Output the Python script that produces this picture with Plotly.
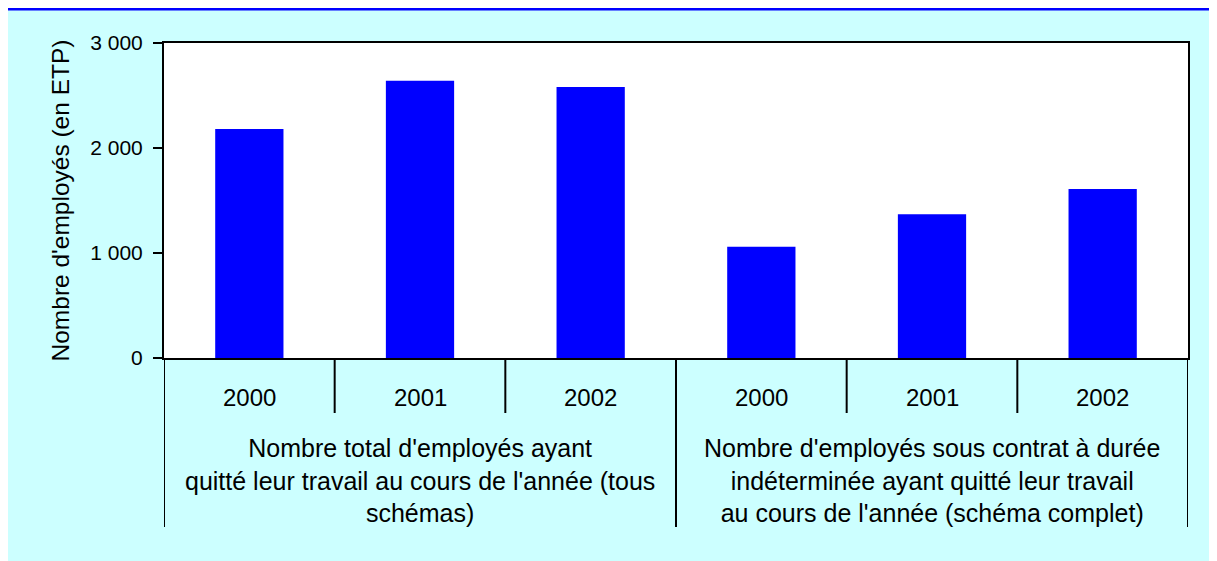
import plotly.graph_objects as go

# ---- data ----
years = ["2000", "2001", "2002", "2000", "2001", "2002"]
values = [2180, 2640, 2580, 1060, 1370, 1610]
groups = [
    "Nombre total d'employés ayant<br>quitté leur travail au cours de l'année (tous<br>schémas)",
    "Nombre d'employés sous contrat à durée<br>indéterminée ayant quitté leur travail<br>au cours de l'année (schéma complet)",
]
group_sizes = [3, 3]
y_tickvals = [0, 1000, 2000, 3000]
y_ticktext = ["0", "1 000", "2 000", "3 000"]
y_title = "Nombre d'employés (en ETP)"

# ---- geometry (figure pixels; page body adds 8px margin) ----
W, H = 1209, 553
ML, MR, MT, MB = 156, 29, 35, 203
PW, PH = W - ML - MR, H - MT - MB


def py(p):  # pixel y -> paper y
    return (H - MB - p) / PH


def px(p):  # pixel x -> paper x
    return (p - ML) / PW


FONT = "Arial, Liberation Sans, sans-serif"
xpos = list(range(len(values)))

fig = go.Figure()
fig.add_trace(go.Bar(x=xpos, y=values, width=0.4, marker=dict(color="#0000FF", line=dict(width=0)),
                     showlegend=False, hoverinfo="y"))

shapes = []
# blue top line
shapes.append(dict(type="rect", xref="paper", yref="paper", x0=px(0), x1=px(W), y0=py(2.5), y1=py(0),
                   fillcolor="#0000FF", line=dict(width=0), layer="above"))

# dividers
n = len(values)
boundaries = [i - 0.5 for i in range(n + 1)]
group_edges = [-0.5]
acc = -0.5
for g in group_sizes:
    acc += g
    group_edges.append(acc)
for b in boundaries:
    long = any(abs(b - e) < 1e-9 for e in group_edges)
    shapes.append(dict(type="line", xref="x", yref="paper", x0=b, x1=b, y0=0,
                       y1=py(519) if long else py(405),
                       line=dict(color="black", width=2), layer="above"))

annotations = []
for i, yr in enumerate(years):
    annotations.append(dict(x=i, y=py(389), xref="x", yref="paper", text=yr, showarrow=False,
                            xanchor="center", yanchor="middle", font=dict(size=24, color="black", family=FONT)))
start = 0
for g, size in zip(groups, group_sizes):
    center = start + (size - 1) / 2
    annotations.append(dict(x=center, y=py(472), xref="x", yref="paper", text=g, showarrow=False,
                            xanchor="center", yanchor="middle", align="center",
                            font=dict(size=25, color="black", family=FONT)))
    start += size

fig.update_layout(
    width=W, height=H,
    margin=dict(l=ML, r=MR, t=MT, b=MB, pad=0),
    paper_bgcolor="#CCFFFF",
    plot_bgcolor="white",
    font=dict(family=FONT, color="black"),
    shapes=shapes,
    annotations=annotations,
    bargap=0.6,
    xaxis=dict(range=[-0.5, n - 0.5], showticklabels=False, ticks="", showgrid=False, zeroline=False,
               showline=True, linecolor="black", linewidth=2, mirror=True, fixedrange=True),
    yaxis=dict(range=[0, 3000], tickvals=y_tickvals, ticktext=y_ticktext, ticks="outside", ticklen=9,
               tickwidth=2, tickcolor="black", showgrid=False, zeroline=False, showline=True,
               linecolor="black", linewidth=2, mirror=True, tickfont=dict(size=21, family=FONT),
               ticklabelstandoff=6,
               title=dict(text=y_title, font=dict(size=24.5, family=FONT), standoff=14), fixedrange=True),
)

fig.write_html("out.html", config={"displayModeBar": False})
